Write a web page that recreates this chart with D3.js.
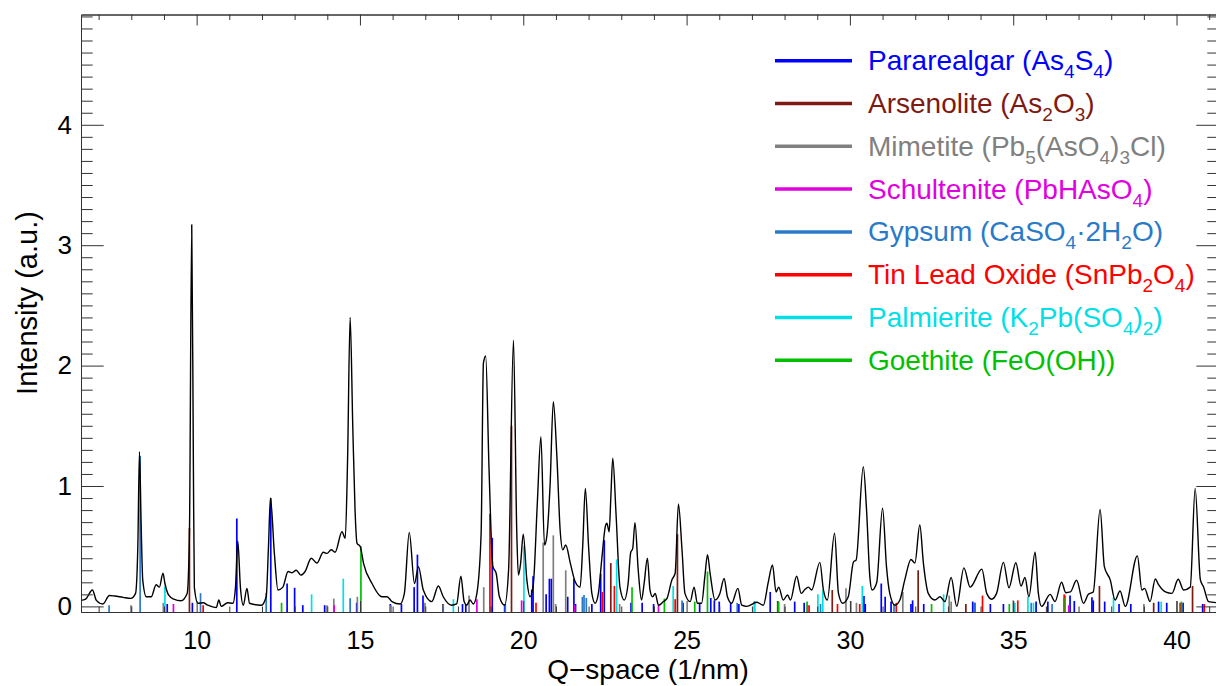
<!DOCTYPE html>
<html><head><meta charset="utf-8">
<script src="https://cdn.jsdelivr.net/npm/d3@7"></script>
<style>
body{margin:0;background:#fff}
svg{display:block}
text{font-family:"Liberation Sans",Arial,Helvetica,sans-serif}
</style>
</head><body>
<svg id="chart" width="1216" height="686"></svg>
<script>
// ---------------- data ----------------
const xTickValues = [10, 15, 20, 25, 30, 35, 40];
const yTickValues = [0, 1, 2, 3, 4];
const xLabel = "Q\u2212space (1/nm)";
const yLabel = "Intensity (a.u.)";

const phaseNames = [
  "Pararealgar (As_4S_4)",
  "Arsenolite (As_2O_3)",
  "Mimetite (Pb_5(AsO_4)_3Cl)",
  "Schultenite (PbHAsO_4)",
  "Gypsum (CaSO_4\u00b72H_2O)",
  "Tin Lead Oxide (SnPb_2O_4)",
  "Palmierite (K_2Pb(SO_4)_2)",
  "Goethite (FeO(OH))"
];
const phaseColors = ["#0000ff", "#7d1a12", "#808080", "#e000e0", "#2a7ac8", "#ff0000", "#00e0e6", "#00c000"];

// measured pattern: [Q (1/nm), intensity]
const spectrum = [
[6.46,0.05],[6.60,0.06],[6.81,0.136],[6.93,0.05],[7.13,0.02],[7.33,0.09],[7.49,0.086],[7.75,0.075],[7.99,0.067],
[8.13,0.108],[8.20,0.5],[8.25,1.285],[8.30,0.7],[8.35,0.22],[8.46,0.08],[8.61,0.08],[8.76,0.18],[8.86,0.16],
[8.97,0.275],[9.03,0.19],[9.14,0.095],[9.30,0.06],[9.52,0.047],[9.71,0.108],[9.78,0.6],[9.85,3.17],[9.90,1.2],
[9.93,0.16],[10.04,0.026],[10.20,0.03],[10.34,0.01],[10.60,-0.01],[10.68,0.053],[10.75,0.0],[10.95,0.03],
[11.11,0.026],[11.19,0.16],[11.26,0.543],[11.34,0.16],[11.43,0.01],[11.54,0.15],[11.62,0.026],[11.98,0.01],
[12.13,0.08],[12.20,0.5],[12.26,0.9],[12.38,0.44],[12.49,0.136],[12.64,0.16],[12.80,0.29],[12.92,0.28],
[13.05,0.30],[13.19,0.26],[13.32,0.29],[13.51,0.40],[13.68,0.36],[13.88,0.45],[13.99,0.44],[14.12,0.47],
[14.24,0.45],[14.45,0.62],[14.55,0.565],[14.62,1.2],[14.70,2.40],[14.78,1.5],[14.85,0.8],[14.91,0.524],
[15.01,0.496],[15.11,0.358],[15.37,0.19],[15.67,0.08],[15.83,0.08],[15.98,0.04],[16.23,0.02],[16.36,0.108],
[16.51,0.615],[16.67,0.19],[16.79,0.33],[16.94,0.136],[17.20,0.04],[17.40,0.17],[17.55,0.08],[17.81,0.01],
[17.96,0.02],[18.09,0.25],[18.19,0.04],[18.27,0.01],[18.37,0.053],[18.47,0.02],[18.58,0.108],[18.71,0.607],
[18.78,2.02],[18.85,2.08],[18.95,1.16],[19.07,0.33],[19.17,0.275],[19.27,0.08],[19.43,0.01],[19.55,0.3],
[19.70,2.21],[19.80,0.63],[19.85,0.26],[19.92,0.36],[20.00,0.60],[20.11,0.22],[20.21,0.08],[20.31,0.19],
[20.43,0.856],[20.54,1.41],[20.65,0.51],[20.72,0.58],[20.82,1.0],[20.92,1.70],[21.03,1.24],[21.13,0.63],
[21.21,0.47],[21.30,0.51],[21.44,0.36],[21.59,0.205],[21.74,0.16],[21.82,0.5],[21.90,0.98],[22.00,0.496],
[22.10,0.108],[22.20,0.026],[22.30,0.108],[22.41,0.41],[22.51,0.66],[22.56,0.69],[22.63,0.62],[22.68,0.9],
[22.74,1.23],[22.84,0.77],[22.96,0.16],[23.09,0.053],[23.21,0.19],[23.29,0.45],[23.35,0.48],[23.42,0.695],
[23.52,0.30],[23.62,0.053],[23.70,0.19],[23.80,0.40],[23.88,0.136],[23.96,0.08],[24.04,0.108],[24.14,0.01],
[24.29,0.04],[24.40,0.067],[24.55,0.22],[24.65,0.275],[24.75,0.85],[24.86,0.47],[24.95,0.108],[25.11,0.04],
[25.23,0.16],[25.33,0.026],[25.46,0.026],[25.56,0.25],[25.64,0.43],[25.72,0.275],[25.87,0.053],[26.02,0.108],
[26.15,0.233],[26.25,0.08],[26.38,0.026],[26.57,0.15],[26.69,0.01],[26.84,0.0],[27.15,0.034],[27.35,0.01],
[27.50,0.2],[27.63,0.344],[27.74,0.12],[27.82,0.16],[27.96,0.053],[28.09,0.095],[28.18,0.053],[28.37,0.25],
[28.51,0.108],[28.62,0.14],[28.73,0.16],[28.83,0.136],[29.08,0.366],[29.19,0.136],[29.31,0.053],[29.53,0.607],
[29.65,0.108],[29.78,0.026],[29.95,0.08],[30.11,0.37],[30.19,0.385],[30.41,1.16],[30.51,0.80],[30.61,0.247],
[30.68,0.136],[30.82,0.197],[31.00,0.815],[31.12,0.33],[31.22,0.108],[31.38,0.01],[31.53,0.053],[31.68,0.22],
[31.87,0.39],[31.99,0.36],[32.14,0.676],[32.25,0.36],[32.40,0.108],[32.60,0.053],[32.76,0.08],[32.91,0.04],
[33.10,0.24],[33.27,0.0],[33.49,0.32],[33.68,0.16],[34.04,0.31],[34.19,0.108],[34.34,0.06],[34.49,0.108],
[34.70,0.366],[34.87,0.155],[35.08,0.363],[35.24,0.17],[35.36,0.24],[35.48,0.08],[35.67,0.45],[35.77,0.108],
[35.87,0.0],[36.13,0.10],[36.28,0.04],[36.48,0.20],[36.61,0.114],[36.75,0.12],[36.94,0.217],[37.15,0.026],
[37.30,0.10],[37.45,0.12],[37.66,0.806],[37.79,0.33],[37.97,0.22],[38.12,0.053],[38.27,0.128],[38.43,0.0],
[38.80,0.42],[38.94,0.136],[39.02,0.15],[39.19,0.04],[39.35,0.228],[39.45,0.18],[39.66,0.12],[39.86,0.108],
[40.05,0.225],[40.22,0.136],[40.42,0.16],[40.57,0.98],[40.73,0.22],[40.83,0.16],[40.98,0.04],[41.30,0.03]
];

// reference stick patterns: [Q, relative intensity]
const pararealgar = [[9.10,0.02],[9.87,0.03],[11.23,0.73],[12.27,0.90],[12.77,0.19],[13.00,0.155],[13.25,0.01],
[13.92,0.01],[14.90,0.03],[15.93,0.02],[16.27,0.02],[16.66,0.16],[16.76,0.43],[16.93,0.09],[18.14,0.02],
[18.24,0.02],[19.05,0.57],[19.43,0.02],[20.26,0.14],[20.30,0.25],[20.70,0.10],[20.80,0.23],[20.86,0.23],
[21.36,0.08],[21.55,0.23],[21.60,0.02],[22.10,0.02],[22.37,0.27],[22.48,0.55],[23.30,0.03],[23.64,0.03],
[23.99,0.02],[24.89,0.03],[25.40,0.02],[25.74,0.07],[25.85,0.05],[26.00,0.04],[26.35,0.03],[26.60,0.02],
[27.56,0.12],[28.31,0.04],[28.60,0.03],[30.43,0.086],[30.47,0.02],[30.96,0.19],[31.08,0.08],[31.26,0.04],
[31.87,0.02],[31.92,0.05],[32.26,0.02],[33.76,0.04],[33.82,0.03],[34.30,0.02],[34.70,0.02],[35.70,0.04],
[36.06,0.04],[36.74,0.09],[36.87,0.045],[37.41,0.075],[37.45,0.05],[37.80,0.04],[38.24,0.02],[38.60,0.02],
[39.45,0.04],[39.70,0.03],[40.20,0.03],[40.80,0.02]];
const arsenolite = [[9.78,0.65],[17.54,0.02],[19.64,1.5],[22.68,0.36],[24.72,0.6],[27.79,0.045],[29.46,0.136],
[32.09,0.30],[33.55,0.02],[36.58,0.09],[37.64,0.17],[39.30,0.03],[40.49,0.17]];
const mimetite = [[7.99,0.01],[8.98,0.03],[13.99,0.01],[14.20,0.065],[14.92,0.08],[15.95,0.01],[16.99,0.03],
[18.34,0.09],[18.79,0.16],[20.61,0.53],[20.92,0.59],[20.99,0.02],[21.30,0.30],[22.95,0.02],[28.00,0.02],
[29.88,0.15],[30.03,0.045],[30.20,0.03],[31.62,0.12],[33.04,0.09],[33.10,0.04],[35.00,0.05],[39.00,0.02],[40.01,0.045]];
const schultenite = [[9.29,0.02],[14.21,0.01],[18.58,0.06],[19.95,0.05],[21.57,0.01],[24.14,0.01],[28.70,0.01],[36.70,0.01]];
const gypsum = [[7.32,0.01],[8.27,1.25],[10.12,0.11],[12.13,0.11],[14.70,0.067],[17.55,0.01],[19.45,0.02],
[21.81,0.08],[21.86,0.095],[21.93,0.07],[24.86,0.05],[26.55,0.03],[27.08,0.045],[29.10,0.02],[31.35,0.02],
[33.83,0.03],[35.55,0.03],[36.19,0.02]];
const tinLeadOxide = [[10.20,0.01],[18.98,0.77],[20.39,0.03],[22.42,0.12],[22.79,0.17],[24.65,0.06],[27.80,0.03],
[28.75,0.01],[29.62,0.02],[30.30,0.02],[31.42,0.03],[34.06,0.09],[35.14,0.05],[36.56,0.10],[40.11,0.03],[40.85,0.02]];
const palmierite = [[9.03,0.17],[13.52,0.10],[14.49,0.23],[17.86,0.06],[20.02,0.50],[22.86,0.39],[24.59,0.17],
[27.08,0.04],[29.02,0.10],[29.17,0.136],[30.38,0.17],[32.87,0.10],[35.05,0.03],[35.45,0.08],[35.62,0.03],
[38.07,0.075],[39.53,0.04]];
const goethite = [[12.60,0.03],[15.03,0.50],[23.33,0.16],[24.32,0.065],[25.25,0.04],[25.64,0.29],[27.82,0.04],
[28.69,0.04],[32.50,0.02],[34.88,0.02],[36.55,0.07],[40.15,0.04]];

const phaseSticks = [pararealgar, arsenolite, mimetite, schultenite, gypsum, tinLeadOxide, palmierite, goethite];

// ---------------- drawing ----------------
const svg = d3.select("#chart");
const L = 81, R = 1219, T = 14.5, B = 612;
const x = d3.scaleLinear().domain([6.46, 41.3]).range([L, R]);
const y = d3.scaleLinear().domain([-0.0465, 4.916]).range([B, T]);

svg.append("defs").append("clipPath").attr("id", "clip")
  .append("rect").attr("x", L).attr("y", T).attr("width", R - L).attr("height", B - T);

const plot = svg.append("g").attr("clip-path", "url(#clip)");

// sticks
phaseSticks.forEach((arr, i) => {
  plot.append("g").selectAll("line").data(arr).join("line")
    .attr("x1", d => x(d[0])).attr("x2", d => x(d[0]))
    .attr("y1", y(y.domain()[0])).attr("y2", d => y(d[1]))
    .attr("stroke", phaseColors[i]).attr("stroke-width", 1.7);
});

// spectrum
plot.append("path").datum(spectrum)
  .attr("fill", "none").attr("stroke", "#000").attr("stroke-width", 1.4)
  .attr("stroke-linejoin", "round")
  .attr("d", d3.line().x(d => x(d[0])).y(d => y(d[1])).curve(d3.curveMonotoneX));

// axes
const axisColor = "#333";
const minorX = d3.range(7, 42, 1).filter(v => v % 5 !== 0);
const minorY = d3.range(1, 50).map(v => v / 10).filter(v => Math.abs(v - Math.round(v)) > 1e-6);

function styleAxis(g) {
  g.selectAll("path,line").attr("stroke", axisColor);
  g.selectAll("text").attr("fill", "#000");
}

svg.append("g").attr("transform", `translate(0,${B})`)
  .call(d3.axisBottom(x).tickValues(minorX).tickSize(-5.5).tickSizeOuter(0).tickFormat(""))
  .call(styleAxis);
svg.append("g").attr("transform", `translate(0,${B})`)
  .call(d3.axisBottom(x).tickValues(xTickValues).tickSize(-11).tickSizeOuter(0).tickPadding(19).tickFormat(d3.format("d")))
  .call(styleAxis)
  .selectAll("text").attr("font-size", 25);

svg.append("g").attr("transform", `translate(0,${T})`)
  .call(d3.axisTop(x).tickValues(minorX).tickSize(-5.5).tickSizeOuter(0).tickFormat(""))
  .call(styleAxis);
svg.append("g").attr("transform", `translate(0,${T})`)
  .call(d3.axisTop(x).tickValues(xTickValues).tickSize(-11).tickSizeOuter(0).tickFormat(""))
  .call(styleAxis);

svg.append("g").attr("transform", `translate(${L},0)`)
  .call(d3.axisLeft(y).tickValues(minorY).tickSize(-11.7).tickSizeOuter(0).tickFormat(""))
  .call(styleAxis);
svg.append("g").attr("transform", `translate(${L},0)`)
  .call(d3.axisLeft(y).tickValues(yTickValues).tickSize(-22.7).tickSizeOuter(0).tickPadding(9).tickFormat(d3.format("d")))
  .call(styleAxis)
  .selectAll("text").attr("font-size", 26);

svg.append("g").attr("transform", `translate(${R},0)`)
  .call(d3.axisRight(y).tickValues(minorY).tickSize(-11.7).tickSizeOuter(0).tickFormat(""))
  .call(styleAxis);
svg.append("g").attr("transform", `translate(${R},0)`)
  .call(d3.axisRight(y).tickValues(yTickValues).tickSize(-22.7).tickSizeOuter(0).tickFormat(""))
  .call(styleAxis);

// axis titles
svg.append("text").attr("x", 648).attr("y", 679)
  .attr("text-anchor", "middle").attr("font-size", 28).text(xLabel);
svg.append("text").attr("transform", "translate(37,303) rotate(-90)")
  .attr("text-anchor", "middle").attr("font-size", 29).text(yLabel);

// legend
const legend = svg.append("g");
phaseNames.forEach((name, i) => {
  const cy = 60.7 + i * 42.8;
  legend.append("line").attr("x1", 775).attr("x2", 852).attr("y1", cy).attr("y2", cy)
    .attr("stroke", phaseColors[i]).attr("stroke-width", 3.5);
  const t = legend.append("text").attr("x", 868).attr("y", cy + 9.5)
    .attr("font-size", 28).attr("fill", phaseColors[i]);
  const parts = name.split(/(_\d)/).filter(s => s.length);
  let sub = false;
  parts.forEach(p => {
    if (p.startsWith("_")) {
      t.append("tspan").attr("font-size", 19).attr("dy", 8).text(p.slice(1));
      sub = true;
    } else {
      t.append("tspan").attr("dy", sub ? -8 : 0).text(p);
      sub = false;
    }
  });
});
</script>
</body></html>
